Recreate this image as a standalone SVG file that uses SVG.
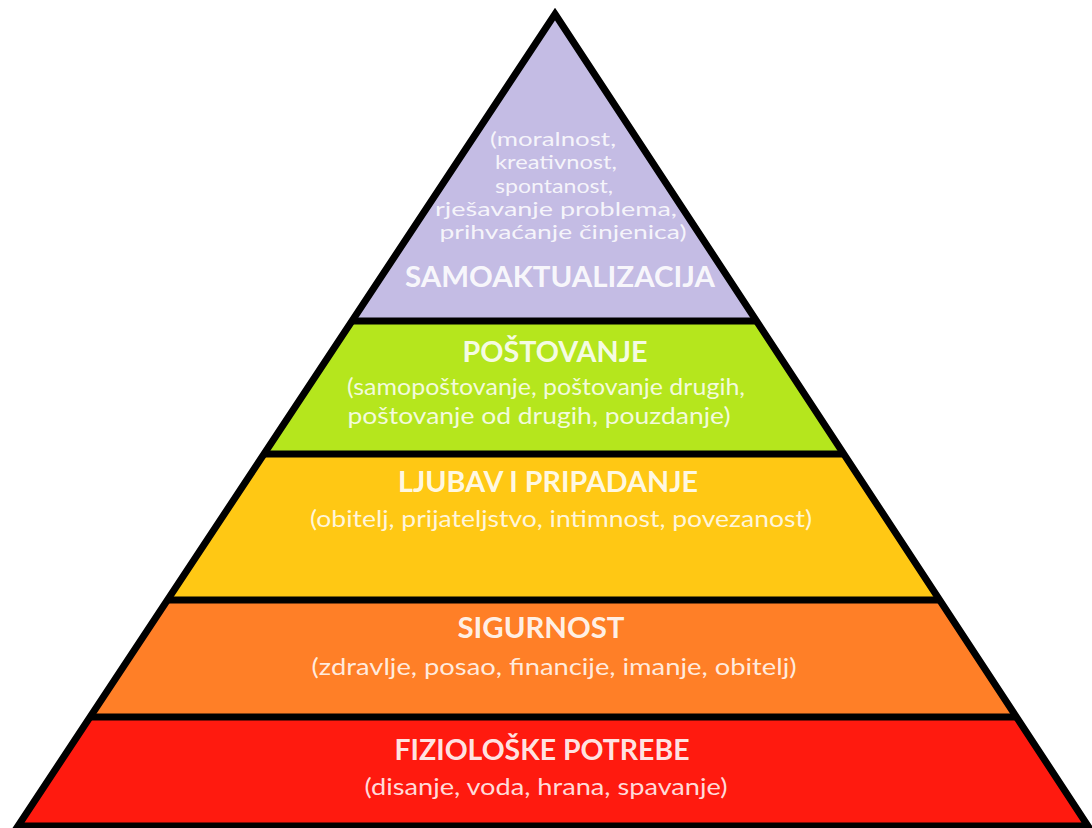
<svg xmlns="http://www.w3.org/2000/svg" width="1092" height="828" viewBox="0 0 1092 828">
<style>
.h{font-family:Lato,"Open Sans","Liberation Sans",sans-serif;font-weight:bold;font-size:28px;fill:#ffffff;fill-opacity:0.9;text-anchor:middle}
.s{font-family:Lato,"Open Sans","Liberation Sans",sans-serif;font-size:23px;fill:#ffffff;fill-opacity:0.85;text-anchor:middle}
.p{font-family:Lato,"Open Sans","Liberation Sans",sans-serif;font-size:19px;fill:#ffffff;fill-opacity:0.85;text-anchor:middle}
.sep{stroke:#000;stroke-width:7;fill:none}
</style>
<rect width="1092" height="828" fill="#ffffff"/>
<g id="samoaktualizacija">
<polygon points="555,14 352,321 756.5,321" fill="#C4BCE4"/>
<text class="p" x="553" y="146" textLength="126" lengthAdjust="spacingAndGlyphs">(moralnost,</text>
<text class="p" x="556" y="169" textLength="122" lengthAdjust="spacingAndGlyphs">kreativnost,</text>
<text class="p" x="554" y="193" textLength="118" lengthAdjust="spacingAndGlyphs">spontanost,</text>
<text class="p" x="556" y="216" textLength="242" lengthAdjust="spacingAndGlyphs">rješavanje problema,</text>
<text class="p" x="563" y="239" textLength="247" lengthAdjust="spacingAndGlyphs">prihvaćanje činjenica)</text>
<text class="h" x="560" y="287" textLength="310" lengthAdjust="spacingAndGlyphs">SAMOAKTUALIZACIJA</text>
</g>
<g id="postovanje">
<polygon points="352,321 756.5,321 843.8,454 264,454" fill="#B5E61D"/>
<text class="h" x="555" y="362" textLength="185" lengthAdjust="spacingAndGlyphs">POŠTOVANJE</text>
<text class="s" x="546" y="395" textLength="398" lengthAdjust="spacingAndGlyphs">(samopoštovanje, poštovanje drugih,</text>
<text class="s" x="539" y="424" textLength="383" lengthAdjust="spacingAndGlyphs">poštovanje od drugih, pouzdanje)</text>
</g>
<g id="ljubav">
<polygon points="264,454 843.8,454 939.7,600 167.5,600" fill="#FFC814"/>
<text class="h" x="548" y="492" textLength="300" lengthAdjust="spacingAndGlyphs">LJUBAV I PRIPADANJE</text>
<text class="s" x="561" y="527" textLength="502" lengthAdjust="spacingAndGlyphs">(obitelj, prijateljstvo, intimnost, povezanost)</text>
</g>
<g id="sigurnost">
<polygon points="167.5,600 939.7,600 1016.5,717 90.1,717" fill="#FF7F27"/>
<text class="h" x="541" y="638" textLength="167" lengthAdjust="spacingAndGlyphs">SIGURNOST</text>
<text class="s" x="554" y="675" textLength="485" lengthAdjust="spacingAndGlyphs">(zdravlje, posao, financije, imanje, obitelj)</text>
</g>
<g id="fizioloske">
<polygon points="90.1,717 1016.5,717 1088,826 18,826" fill="#FF1A0F"/>
<text class="h" x="542" y="760" textLength="295" lengthAdjust="spacingAndGlyphs">FIZIOLOŠKE POTREBE</text>
<text class="s" x="546" y="795" textLength="363" lengthAdjust="spacingAndGlyphs">(disanje, voda, hrana, spavanje)</text>
</g>
<g id="connectors">
<line class="sep" x1="352" y1="321" x2="756.5" y2="321"/>
<line class="sep" x1="264" y1="454" x2="843.8" y2="454"/>
<line class="sep" x1="167.5" y1="600" x2="939.7" y2="600"/>
<line class="sep" x1="90.1" y1="717" x2="1016.5" y2="717"/>
<polygon class="sep" points="555,14 1088,826 18,826" stroke-linejoin="miter"/>
</g>
</svg>
